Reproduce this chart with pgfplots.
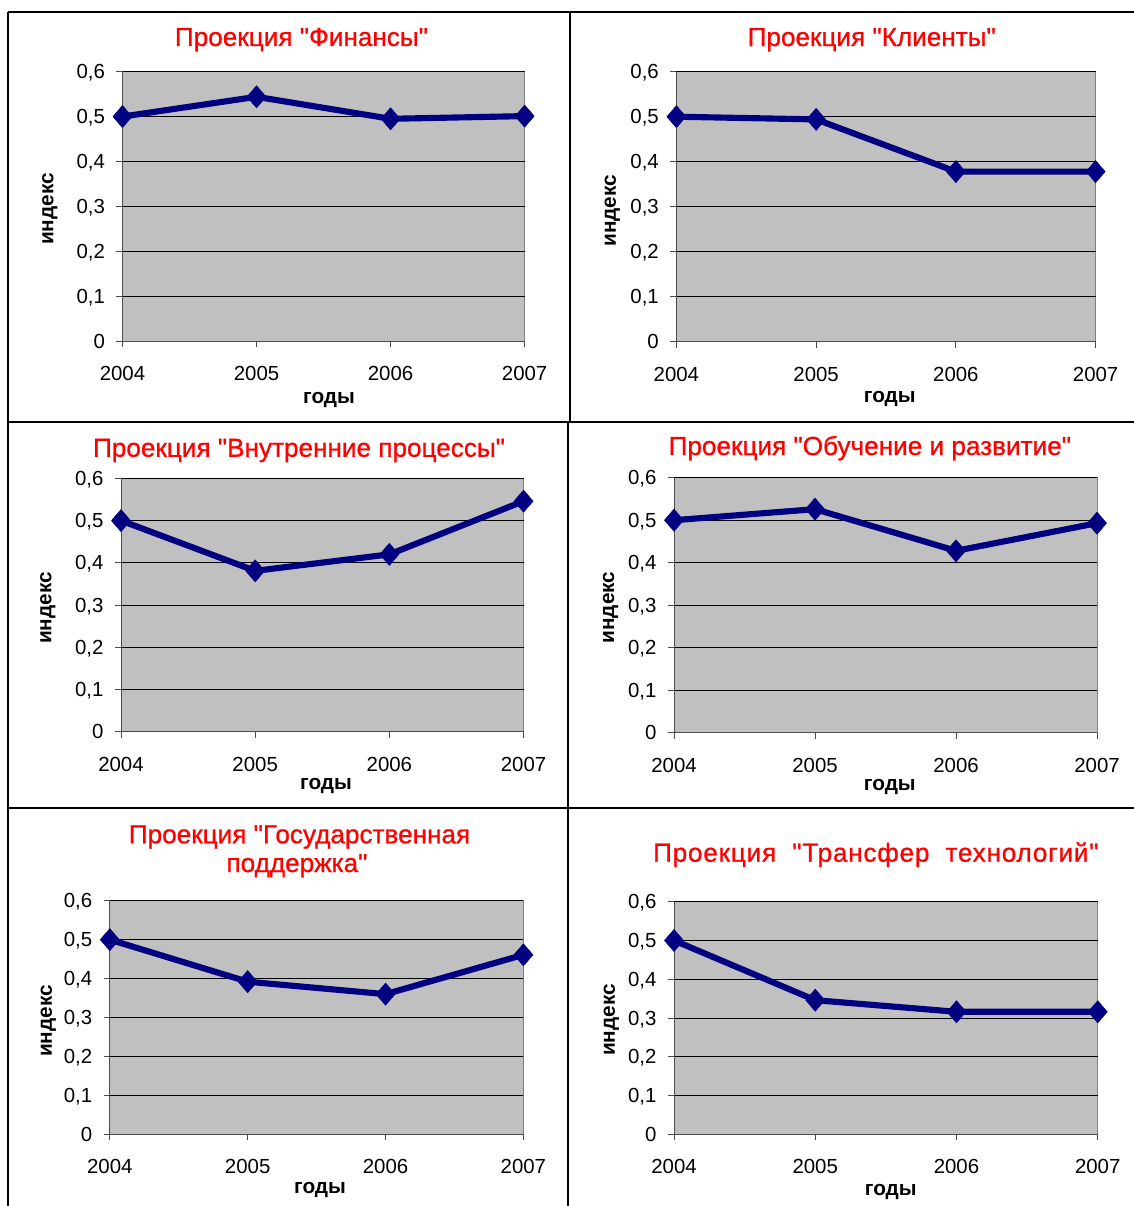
\documentclass[border=0pt]{standalone}
\usepackage{fontspec}
\setmainfont{Liberation Sans}[Ligatures=TeXOff]
\newfontfamily\titlefam[Ligatures=TeXOff, FakeBold=0.8]{Liberation Sans}
\newfontfamily\spacedfont[Ligatures=TeXOff, FakeBold=0.8, LetterSpace=3]{Liberation Sans}
\usepackage{pgfplots}
\pgfplotsset{compat=1.18}

\definecolor{seriesnavy}{HTML}{000080}
\definecolor{plotfill}{HTML}{C0C0C0}
\definecolor{titlered}{HTML}{FF0000}
\definecolor{boxgray}{HTML}{808080}

\newcommand{\titlefont}{\titlefam\fontsize{19.6}{22}\selectfont}
\newcommand{\labelfont}{\fontsize{15.6}{18}\selectfont\bfseries}
\newcommand{\tickfont}{\fontsize{15.3}{17}\selectfont}

\pgfplotsset{
  every axis title shift=0pt,
  projection/.style={
    scale only axis,
    clip=false,
    xmin=0, xmax=3, ymin=0, ymax=0.6,
    xtick={0,1,2,3},
    xticklabels={2004,2005,2006,2007},
    ytick={0,0.1,0.2,0.3,0.4,0.5,0.6},
    yticklabels={0,{0,1},{0,2},{0,3},{0,4},{0,5},{0,6}},
    axis x line*=bottom, axis y line*=left,
    axis line style={-, black!70, line width=0.75pt},
    axis background/.style={fill=plotfill, draw=boxgray, line width=0.75pt},
    ymajorgrids,
    major grid style={black, line width=0.6pt},
    tick align=outside,
    major tick length=4.5pt,
    tick style={black!70, line width=0.75pt},
    ticklabel style={font=\tickfont},
    yticklabel style={anchor=east, inner sep=0pt, text depth=0pt, xshift=-8.5pt},
    xticklabel style={anchor=base, inner sep=0pt, yshift=-25pt},
    title style={font=\titlefont, text=titlered, anchor=base, inner sep=0pt},
    xlabel={годы},
    ylabel={индекс},
    xlabel style={font=\labelfont, anchor=base, inner sep=0pt},
    ylabel style={font=\labelfont, anchor=base, inner sep=0pt},
  },
  series/.style={
    seriesnavy, line width=4.6pt, line join=round,
    mark=diamond*, mark size=8.3pt,
    mark options={solid, fill=seriesnavy, draw=seriesnavy, line width=0.4pt, xscale=1.15},
  },
}

\begin{document}
\begin{tikzpicture}
\path[use as bounding box] (0pt,0pt) rectangle (850.5pt,-904.5pt);

% frames around the six panels
\begin{scope}[line width=1.5pt, black]
\draw (6pt,-9pt) -- (850.5pt,-9pt);
\draw (6pt,-316.5pt) -- (850.5pt,-316.5pt);
\draw (6pt,-606pt) -- (850.5pt,-606pt);
\draw (6pt,-9pt) -- (6pt,-904.5pt);
\draw (427.5pt,-9pt) -- (427.5pt,-316.5pt);
\draw (426pt,-316.5pt) -- (426pt,-904.5pt);
\end{scope}

% Finances
\begin{axis}[projection,
  at={(91.875pt,-255.75pt)}, anchor=south west,
  width=301.6pt, height=202pt,
  title={Проекция "Финансы"},
  title style={at={(axis description cs:0.445,1.0954)}},
  xlabel style={at={(axis description cs:0.5136,-0.2302)}},
  ylabel style={at={(axis description cs:-0.1721,0.490)}},
]
\addplot[series] coordinates {(0,0.500) (1,0.544) (2,0.495) (3,0.501)};
\end{axis}

% Clients
\begin{axis}[projection,
  at={(507.3pt,-256.275pt)}, anchor=south west,
  width=314.4pt, height=202.5pt,
  title={Проекция "Клиенты"},
  title style={at={(axis description cs:0.4659,1.0952)}},
  xlabel style={at={(axis description cs:0.509,-0.227)}},
  ylabel style={at={(axis description cs:-0.1441,0.4848)}},
]
\addplot[series] coordinates {(0,0.500) (1,0.494) (2,0.378) (3,0.378)};
\end{axis}

% Internal processes
\begin{axis}[projection,
  at={(90.75pt,-548.775pt)}, anchor=south west,
  width=301.9pt, height=190pt,
  title={Проекция "Внутренние процессы"},
  title style={at={(axis description cs:0.4422,1.0852)}},
  xlabel style={at={(axis description cs:0.5093,-0.230)}},
  ylabel style={at={(axis description cs:-0.1727,0.488)}},
]
\addplot[series] coordinates {(0,0.500) (1,0.381) (2,0.420) (3,0.546)};
\end{axis}

% Learning and growth
\begin{axis}[projection,
  at={(505.5pt,-549.525pt)}, anchor=south west,
  width=317.25pt, height=191.25pt,
  title={Проекция "Обучение и развитие"},
  title style={at={(axis description cs:0.4629,1.089)}},
  xlabel style={at={(axis description cs:0.5102,-0.2247)}},
  ylabel style={at={(axis description cs:-0.1418,0.491)}},
]
\addplot[series] coordinates {(0,0.500) (1,0.526) (2,0.428) (3,0.493)};
\end{axis}

% State support
\begin{axis}[projection,
  at={(82.35pt,-850.725pt)}, anchor=south west,
  width=310.2pt, height=175.2pt,
  title={Проекция "Государственная},
  title style={at={(axis description cs:0.4587,1.2457)}},
  xlabel style={at={(axis description cs:0.5082,-0.2526)}},
  ylabel style={at={(axis description cs:-0.1398,0.485)}},
]
\addplot[series] coordinates {(0,0.500) (1,0.392) (2,0.360) (3,0.461)};
\node[font=\titlefont, text=titlered, anchor=base, inner sep=0pt]
  at (axis description cs:0.4526,1.1229) {поддержка"};
\end{axis}

% Technology transfer
\begin{axis}[projection,
  at={(505.5pt,-850.725pt)}, anchor=south west,
  width=317.8pt, height=174.45pt,
  title={\spacedfont\fontsize{19.6}{22}\selectfont Проекция\ \ "Трансфер\ \ технологий"},
  title style={at={(axis description cs:0.4763,1.172)}},
  xlabel style={at={(axis description cs:0.5115,-0.261)}},
  ylabel style={at={(axis description cs:-0.1393,0.4914)}},
]
\addplot[series] coordinates {(0,0.500) (1,0.346) (2,0.316) (3,0.316)};
\end{axis}
\end{tikzpicture}
\end{document}
